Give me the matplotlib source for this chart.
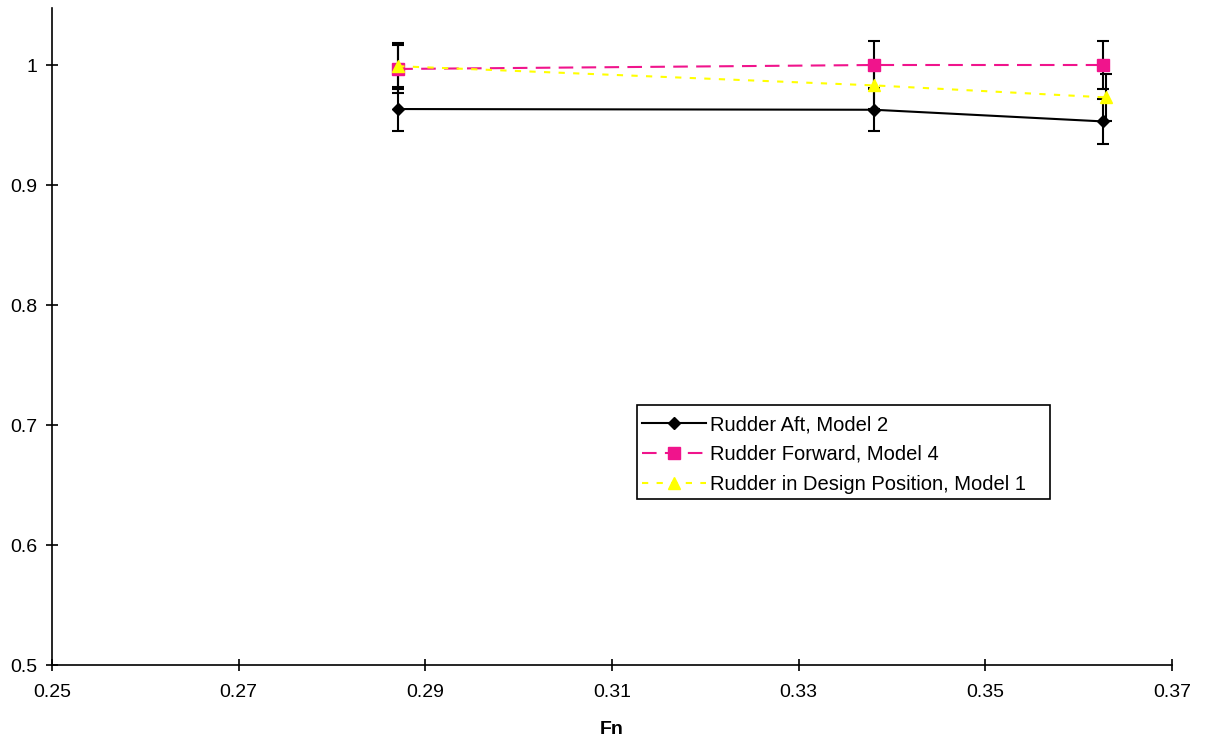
import matplotlib.pyplot as plt
from matplotlib.patches import Rectangle

plt.rcParams['font.family'] = ['Liberation Sans', 'DejaVu Sans']

# Rudder Aft, Model 2
fn_aft = [0.2871, 0.3381, 0.36257]
val_aft = [0.9633, 0.9627, 0.953]
err_aft = [0.018, 0.018, 0.019]

# Rudder Forward, Model 4
fn_fwd = [0.2871, 0.3381, 0.36257]
val_fwd = [0.9967, 1.000, 1.000]
err_fwd = [0.0198, 0.020, 0.020]

# Rudder in Design Position, Model 1
fn_des = [0.2871, 0.3381, 0.3629]
val_des = [0.999, 0.983, 0.973]
err_des = [0.019, 0.0198, 0.0198]

labels = ["Rudder Aft, Model 2", "Rudder Forward, Model 4",
          "Rudder in Design Position, Model 1"]
xticks = [0.25, 0.27, 0.29, 0.31, 0.33, 0.35, 0.37]
yticks = [0.5, 0.6, 0.7, 0.8, 0.9, 1.0]

W, H = 1210, 740
fig = plt.figure(figsize=(W / 100, H / 100), dpi=100)
ax = fig.add_axes([52 / W, 75 / H, 1120 / W, 657 / H])

eb_kw = dict(ecolor='black', elinewidth=1.5, capsize=4.5, capthick=1.5)

ax.errorbar(fn_aft, val_aft, yerr=err_aft, color='black', lw=1.5,
            marker='D', ms=6, mfc='black', mec='black', label=labels[0], **eb_kw)
ax.errorbar(fn_fwd, val_fwd, yerr=err_fwd, color='#F0148C', lw=1.5,
            linestyle=(0, (7, 4)), marker='s', ms=8, mfc='#F0148C', mec='#F0148C',
            label=labels[1], **eb_kw)
ax.errorbar(fn_des, val_des, yerr=err_des, color='#FFFF00', lw=1.5,
            linestyle=(0, (3, 4)), marker='^', ms=9, mfc='#FFFF00', mec='#FFFF00',
            label=labels[2], **eb_kw)

ax.set_xlim(0.25, 0.37)
ax.set_ylim(0.5, 1.0475)
ax.set_xticks(xticks)
ax.set_xticklabels([f"{t:.2f}" for t in xticks])
ax.set_yticks(yticks)
ax.set_yticklabels(["0.5", "0.6", "0.7", "0.8", "0.9", "1"])
ax.tick_params(direction='inout', length=8, width=1.2, labelsize=14)
ax.tick_params(axis='x', pad=10)
ax.tick_params(axis='y', pad=6.5)
ax.spines['top'].set_visible(False)
ax.spines['right'].set_visible(False)
for s in ('left', 'bottom'):
    ax.spines[s].set_linewidth(1.2)

ax.set_xlabel("Fn", fontsize=14, fontweight='bold', labelpad=14)

# legend entries without frame, box drawn separately (Excel style padding)
handles, _ = ax.get_legend_handles_labels()
handles = [h[0] for h in handles]
leg = ax.legend(handles, labels, loc='upper left',
                bbox_to_anchor=(642 / W, 1 - 415 / H), bbox_transform=fig.transFigure,
                fontsize=14.5, frameon=False,
                handlelength=3.2, handletextpad=0.2, borderpad=0, labelspacing=0.54,
                markerscale=1.0, borderaxespad=0)
fig.patches.append(Rectangle((637 / W, 1 - 499 / H), 413 / W, 94 / H,
                             transform=fig.transFigure, fill=False,
                             edgecolor='black', linewidth=1.2))

fig.savefig("out.png", dpi=100)
